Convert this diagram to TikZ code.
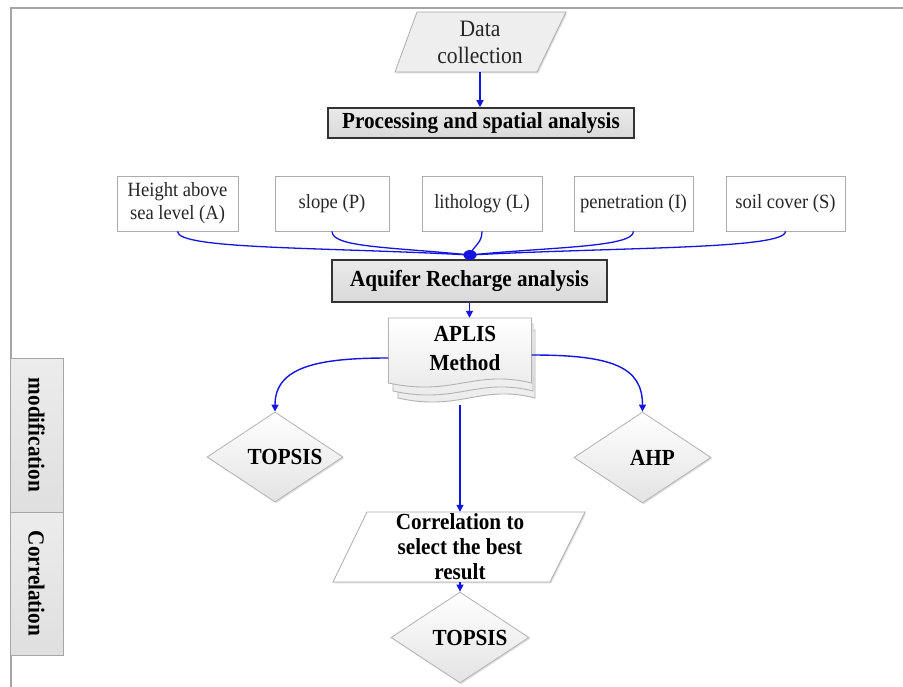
\documentclass[tikz,border=0pt]{standalone}
\usepackage{fontspec}
\setmainfont[FakeStretch=0.92]{Liberation Serif}
\usetikzlibrary{arrows.meta,shapes.geometric,calc,shadows}
\definecolor{lblue}{RGB}{20,20,225}
\newcommand\docpagedraw[5]{%
  \path[pagestyle] (#1,#2) -- (#3,#2) -- (#3,#4)
    .. controls ({#3-0.4*(#3-#1)},{#4-2*#5}) and ({#1+0.45*(#3-#1)},{#4+2*#5}) .. (#1,#4) -- cycle;}
\begin{document}
\begin{tikzpicture}[x=1pt,y=-1pt,
  conn/.style={draw=lblue,line width=1.4pt,-{Triangle[length=7pt,width=7pt]}},
  link/.style={draw=lblue,line width=1.3pt},
  shad/.style={drop shadow={shadow xshift=1.3pt,shadow yshift=-1.3pt,opacity=0.25}},
  inbox/.style={draw=gray!65,fill=white,line width=0.8pt,inner sep=0pt,align=center,
    font=\fontsize{20.2}{23}\selectfont,text=black!85,minimum height=55pt,shad},
  mainbox/.style={draw=black!80,line width=1.6pt,top color=gray!16,bottom color=gray!30,
    inner sep=0pt,font=\fontsize{23}{25}\selectfont\bfseries,shad},
  diam/.style={diamond,draw=gray!60,line width=0.8pt,top color=white,bottom color=gray!22,
    inner sep=0pt,aspect=1.5,shad},
  boldtxt/.style={font=\fontsize{23}{25}\selectfont\bfseries},
  para/.style={draw=gray!65,line width=0.8pt,shad},
  pagestyle/.style={draw=gray!60,line width=0.9pt,top color=white,bottom color=gray!18},
  tab/.style={draw=gray!70,line width=1pt,top color=gray!15,bottom color=gray!25},
  hid/.style={inner sep=0pt}
]
\useasboundingbox (0,0) rectangle (903,687);
\fill[white] (0,0) rectangle (903,687);

% frame
\draw[gray!70,line width=2pt] (11,687) -- (11,8) -- (903,8);

% side tabs
\path[tab] (10,358) rectangle (63,512);
\path[tab] (10,512) rectangle (63,655);
\node[rotate=-90,boldtxt] (tabm) at (36.5,435) {modification};
\node[rotate=-90,boldtxt] (tabc) at (36.5,583.5) {Correlation};

% data collection
\path[para,fill=gray!13] (417,12) -- (566,12) -- (537,72) -- (395,72) -- cycle;
\node[hid,minimum width=140pt,minimum height=60pt,align=center,text=black!85,
  font=\fontsize{23.5}{27}\selectfont] (dc) at (480,42) {Data\\collection};

% processing
\node[mainbox,minimum width=306pt,minimum height=30pt] (proc) at (481,123) {Processing and spatial analysis};
\draw[conn] (dc.south) -- (dc.south |- proc.north);

% inputs
\node[inbox,minimum width=121pt] (A) at (177.5,203.5) {Height above\\sea level (A)};
\node[inbox,minimum width=114pt] (P) at (332,203.5) {slope (P)};
\node[inbox,minimum width=120pt] (L) at (482,203.5) {lithology (L)};
\node[inbox,minimum width=119pt] (I) at (633.5,203.5) {penetration (I)};
\node[inbox,minimum width=119pt] (S) at (785.5,203.5) {soil cover (S)};

% aquifer
\node[mainbox,minimum width=275pt,minimum height=42pt] (aq) at (469.5,281) {Aquifer Recharge analysis};

\coordinate (dot) at (470,255);
\draw[link] (A.south) .. controls +(0,18) and +(-150,-8) .. (dot);
\draw[link] (P.south) .. controls +(0,16) and +(-80,-8) .. (dot);
\draw[link] (L.south) .. controls +(0,12) and +(4,-10) .. (dot);
\draw[link] (I.south) .. controls +(0,16) and +(80,-8) .. (dot);
\draw[link] (S.south) .. controls +(0,18) and +(150,-8) .. (dot);
\fill[lblue] (dot) ellipse (6.5 and 5);

% APLIS multi-document
\docpagedraw{398}{330}{535}{398}{7}
\docpagedraw{393}{324}{533}{391}{7}
\docpagedraw{388.5}{318}{531.5}{383}{7}
\node[hid,minimum width=143pt,minimum height=64pt] (aplis) at (460,350) {};
\node[align=center,font=\fontsize{23}{29}\selectfont\bfseries] (apl) at (465,348.5) {APLIS\\Method};
\draw[conn] (aq.south) -- (aq.south |- aplis.north);
\coordinate (aplisb) at (460,405);

% diamonds
\node[diam,minimum width=136pt,minimum height=90pt,
  label={[boldtxt,xshift=10pt]center:TOPSIS}] (t1) at (275,457) {};
\node[diam,minimum width=137pt,minimum height=91pt,
  label={[boldtxt,xshift=10pt]center:AHP}] (ahp) at (642.5,457.5) {};

\draw[conn] ($(aplis.west)+(0,8)$) .. controls +(-70,0) and +(0,-45) .. (t1.north);
\draw[conn] ($(aplis.east)+(0,5)$) .. controls +(80,0) and +(0,-45) .. (ahp.north);

% correlation
\path[para,fill=white] (367,512) -- (585,512) -- (550,582) -- (333,582) -- cycle;
\node[hid,minimum width=200pt,minimum height=70pt,align=center,
  font=\fontsize{23}{25}\selectfont\bfseries] (corr) at (460,547) {Correlation to\\select the best\\result};
\draw[conn] (aplisb) -- (corr.north);

\node[diam,minimum width=138pt,minimum height=91pt,
  label={[boldtxt,xshift=10pt]center:TOPSIS}] (t2) at (460,637.5) {};
\draw[conn] (corr.south) -- (t2.north);
\end{tikzpicture}
\end{document}
